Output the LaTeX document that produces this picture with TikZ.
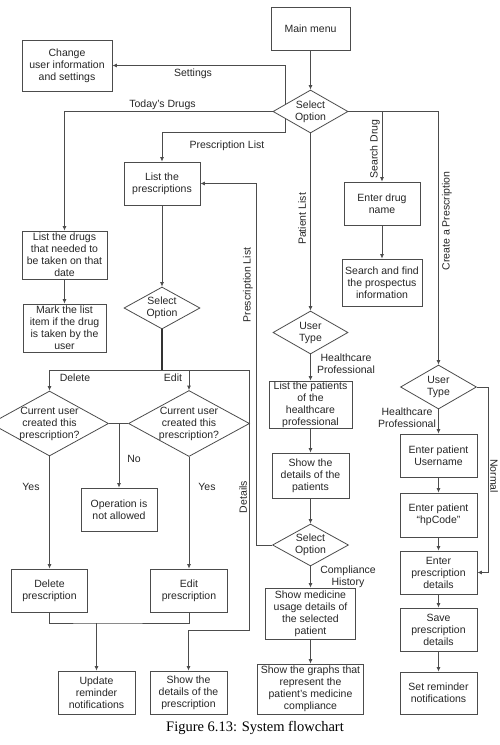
\documentclass[tikz,border=0pt]{standalone}
\usepackage{fontspec}
\setmainfont{Liberation Sans}
\newfontfamily\capfont{Liberation Serif}
\usetikzlibrary{shapes.geometric,arrows.meta,calc}
\begin{document}
\begin{tikzpicture}[x=1pt,y=-1pt,
  every node/.style={font=\fontsize{10.5}{12}\selectfont, text=black!85},
  box/.style={draw=black!70, line width=0.8pt, inner sep=0pt, align=center, rectangle},
  dia/.style={draw=black!70, line width=0.8pt, diamond, inner sep=0pt},
  txt/.style={align=center, inner sep=0pt},
  conn/.style={draw=black!70, line width=0.8pt},
  arr/.style={conn, -{Latex[length=4.5pt,width=4pt]}},
  thickconn/.style={draw=black!80, line width=1.6pt},
]
\useasboundingbox (0,0) rectangle (499,745);
\fill[white] (0,0) rectangle (499,745);

% boxes
\node[box, minimum width=79, minimum height=43] (main) at (310.5,28.5) {Main menu};
\node[box, minimum width=90, minimum height=51] (change) at (67,65.5) {Change\\user information\\and settings};
\node[box, minimum width=76, minimum height=43] (listpres) at (162,183.5) {List the\\prescriptions};
\node[box, minimum width=85, minimum height=48] (listdrugs) at (64.5,255) {List the drugs\\that needed to\\be taken on that\\date};
\node[box, minimum width=83, minimum height=48] (mark) at (64.5,328) {Mark the list\\item if the drug\\is taken by the\\user};
\node[box, minimum width=76, minimum height=43] (enterdrug) at (382,203.5) {Enter drug\\name};
\node[box, minimum width=80, minimum height=47] (search) at (382,282.5) {Search and find\\the prospectus\\information};
\node[box, minimum width=76, minimum height=43] (oper) at (119,509.5) {Operation is\\not allowed};
\node[box, minimum width=76, minimum height=43] (delete) at (49.5,590.5) {Delete\\prescription};
\node[box, minimum width=77, minimum height=43] (edit) at (189,590.5) {Edit\\prescription};
\node[box, minimum width=77, minimum height=43] (update) at (96.5,692.5) {Update\\reminder\\notifications};
\node[box, minimum width=77, minimum height=43] (showpres) at (188.5,692.5) {Show the\\details of the\\prescription};
\node[box, minimum width=83, minimum height=47] (listpat) at (310.5,404.5) {List the patients\\of the\\healthcare\\professional};
\node[box, minimum width=77, minimum height=45] (showpat) at (310.5,475.5) {Show the\\details of the\\patients};
\node[box, minimum width=90, minimum height=51] (showmed) at (310.5,613.5) {Show medicine\\usage details of\\the selected\\patient};
\node[box, minimum width=106, minimum height=50] (graphs) at (310.5,689) {Show the graphs that\\represent the\\patient's medicine\\compliance};
\node[box, minimum width=77, minimum height=43] (username) at (438.5,455.5) {Enter patient\\Username};
\node[box, minimum width=77, minimum height=44] (hpcode) at (438.5,515) {Enter patient\\``hpCode''};
\node[box, minimum width=77, minimum height=43] (enterpres) at (438.5,572.5) {Enter\\prescription\\details};
\node[box, minimum width=77, minimum height=43] (save) at (438.5,629.5) {Save\\prescription\\details};
\node[box, minimum width=77, minimum height=42] (reminder) at (438.5,693) {Set reminder\\notifications};

% diamonds
\node[dia, minimum width=75, minimum height=43] (d1) at (310.5,111.5) {};
\node[txt] at (d1) {Select\\Option};
\node[dia, minimum width=76, minimum height=42] (d2) at (162,308) {};
\node[txt] at (d2) {Select\\Option};
\node[dia, minimum width=75, minimum height=43] (d3) at (310.5,332.5) {};
\node[txt] at (d3) {User\\Type};
\node[dia, minimum width=118, minimum height=65] (d4) at (49.5,423.5) {};
\node[txt] at (d4) {Current user\\created this\\prescription?};
\node[dia, minimum width=121, minimum height=66] (d5) at (189,423.5) {};
\node[txt] at (d5) {Current user\\created this\\prescription?};
\node[dia, minimum width=76, minimum height=42] (d6) at (310.5,545) {};
\node[txt] at (d6) {Select\\Option};
\node[dia, minimum width=76, minimum height=44] (d7) at (438.5,387) {};
\node[txt] at (d7) {User\\Type};

% helper coordinates
\coordinate (s1) at ($(d1.west)!0.347!(d1.north)$);
\coordinate (p1) at ($(d1.west)!0.347!(d1.south)$);
\coordinate (pl) at (162,132);
\coordinate (cp) at (438.5,111.5);
\coordinate (br) at (162,370);
\coordinate (dt1) at (249,370);
\coordinate (dt2) at (249,630);
\coordinate (m1) at (96.5,623);
\coordinate (pl2) at (256,545);
\coordinate (n1) at (488,387);

% connectors
\draw[arr] (main) -- (d1);
\draw[arr] (s1) |- (change.east);
\draw[arr] (d1.west) -| (listdrugs.north);
\draw[arr] (p1) |- (pl) -- (listpres.north);
\draw[conn] (d1.east) -- (cp);
\draw[arr] (cp) -- (d7.north);
\draw[arr] (enterdrug.north |- d1.east) -- (enterdrug.north);
\draw[arr] (enterdrug) -- (search);
\draw[arr] (d1) -- (d3);
\draw[arr] (listdrugs) -- (mark);
\draw[arr] (listpres) -- (d2);
\draw[thickconn] (d2.south) -- (br);
\draw[arr] (br) -| (d4.north);
\draw[arr] (br) -| (d5.north);
\draw[arr] (br) -- (dt1) -- (dt2) -| (showpres.north);
\draw[conn] (d4.east) -- (d5.west);
\draw[arr] (oper.north |- d4.east) -- (oper.north);
\draw[arr] (d4) -- (delete);
\draw[arr] (d5) -- (edit);
\draw[conn] (delete.south) |- (m1) -| (edit.south);
\draw[arr] (m1) -- (update.north);
\draw[arr] (d3) -- (listpat);
\draw[arr] (listpat) -- (showpat);
\draw[arr] (showpat) -- (d6);
\draw[arr] (d6) -- (showmed);
\draw[arr] (showmed) -- (graphs);
\draw[arr] (d6.west) -- (pl2) |- (listpres.east);
\draw[arr] (d7) -- (username);
\draw[arr] (username) -- (hpcode);
\draw[arr] (hpcode) -- (enterpres);
\draw[arr] (enterpres) -- (save);
\draw[arr] (save) -- (reminder);
\draw[arr] (d7.east) -- (n1) |- (enterpres.east);

% labels
\node[txt] (lset) at (193,74) {Settings};
\node[txt] (ltd) at (162.5,105) {Today's Drugs};
\node[txt] (lpl) at (227,146) {Prescription List};
\node[txt, rotate=90] (lpl2) at (248,285) {Prescription List};
\node[txt, rotate=90] (lsd) at (375,149) {Search Drug};
\node[txt, rotate=90] (lpat) at (302,219) {Patient List};
\node[txt, rotate=90] (lcp) at (447,221) {Create a Prescription};
\node[txt] (lhp1) at (346,364) {Healthcare\\Professional};
\node[txt] (ldel) at (75,378) {Delete};
\node[txt] (ledit) at (173,378) {Edit};
\node[txt] (lno) at (134,459) {No};
\node[txt] (lyes1) at (31,487) {Yes};
\node[txt] (lyes2) at (207,487) {Yes};
\node[txt, rotate=90] (ldet) at (243,497) {Details};
\node[txt] (lch) at (348,577) {Compliance\\History};
\node[txt] (lhp2) at (407,418) {Healthcare\\Professional};
\node[txt, rotate=-90] (lnorm) at (494,476) {Normal};

% caption
\node[txt, font=\capfont\fontsize{14.5}{16}\selectfont, text=black] (cap) at (255,728) {Figure 6.13: System flowchart};
\end{tikzpicture}
\end{document}
